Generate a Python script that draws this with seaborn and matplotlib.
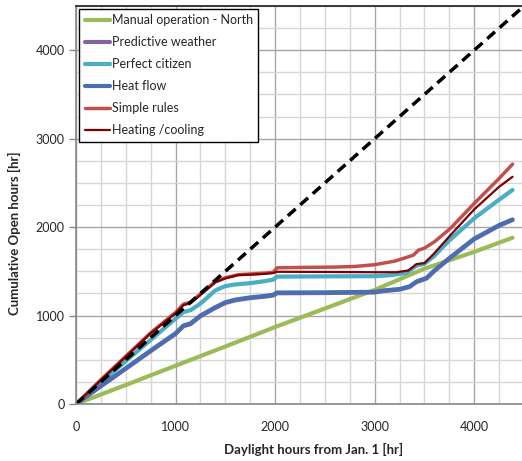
import matplotlib
matplotlib.use("Agg")
import matplotlib.pyplot as plt
import seaborn as sns
from matplotlib.ticker import MultipleLocator

sns.set_theme(style="white")
plt.rcParams["font.family"] = ["Lato", "DejaVu Sans"]

# data
manual_x = [0, 500, 1000, 1500, 2000, 2500, 3000, 3500, 4000, 4385]
manual_y = [0, 215, 433, 650, 870, 1080, 1290, 1530, 1720, 1880]

predictive_x = [0, 250, 500, 750, 1000, 1080, 1150, 1250, 1400, 1500, 1600, 1750, 1900, 1980,
                2020, 2500, 3000, 3100, 3250, 3350, 3420, 3520, 3600, 3750, 4000, 4250, 4385]
predictive_y = [0, 200, 398, 597, 792, 880, 903, 992, 1087, 1142, 1172, 1197, 1214, 1227,
                1252, 1255, 1261, 1278, 1293, 1323, 1378, 1418, 1503, 1643, 1862, 2015, 2080]

citizen_x = [0, 250, 500, 750, 1000, 1080, 1150, 1250, 1400, 1500, 1600, 1750, 1900, 1980,
             2020, 2500, 3000, 3150, 3320, 3420, 3500, 3600, 3750, 4000, 4250, 4385]
citizen_y = [0, 245, 485, 725, 965, 1040, 1060, 1135, 1285, 1333, 1352, 1366, 1390, 1405,
             1440, 1443, 1445, 1455, 1483, 1565, 1585, 1675, 1850, 2100, 2310, 2420]

heatflow_x = [0, 250, 500, 750, 1000, 1080, 1150, 1250, 1400, 1500, 1600, 1750, 1900, 1980,
              2020, 2500, 3000, 3100, 3250, 3350, 3420, 3520, 3600, 3750, 4000, 4250, 4385]
heatflow_y = [0, 205, 405, 605, 800, 888, 912, 1000, 1095, 1150, 1180, 1205, 1222, 1235,
              1260, 1262, 1268, 1285, 1300, 1330, 1385, 1425, 1510, 1650, 1870, 2023, 2087]

simple_x = [0, 250, 500, 750, 1000, 1080, 1150, 1250, 1400, 1500, 1630, 1750, 1900, 1980,
            2020, 2300, 2600, 2800, 3000, 3200, 3300, 3390, 3440, 3500, 3600, 3760, 4000,
            4250, 4385]
simple_y = [0, 275, 540, 805, 1035, 1130, 1148, 1245, 1385, 1428, 1462, 1470, 1480, 1490,
            1540, 1545, 1548, 1555, 1575, 1615, 1650, 1684, 1740, 1762, 1834, 1985, 2268,
            2550, 2712]

heating_x = [0, 250, 500, 750, 1000, 1080, 1150, 1250, 1400, 1500, 1630, 1750, 1900, 1980,
             2020, 2500, 3000, 3220, 3340, 3420, 3500, 3600, 3750, 4000, 4250, 4385]
heating_y = [0, 270, 535, 799, 1025, 1119, 1138, 1232, 1375, 1420, 1458, 1462, 1472, 1480,
             1495, 1493, 1490, 1490, 1510, 1582, 1592, 1705, 1895, 2200, 2456, 2569]

ref_x = [0, 4500]
ref_y = [0, 4500]

series = [
    ("Manual operation - North", manual_x, manual_y, "#9BBB59", 3.0),
    ("Predictive weather", predictive_x, predictive_y, "#8064A2", 3.0),
    ("Perfect citizen", citizen_x, citizen_y, "#4BACC6", 3.0),
    ("Heat flow", heatflow_x, heatflow_y, "#4A6FB0", 3.0),
    ("Simple rules", simple_x, simple_y, "#C0504D", 2.5),
    ("Heating /cooling", heating_x, heating_y, "#7F0000", 1.6),
]

fig = plt.figure(figsize=(5.22, 4.61), dpi=100)
ax = fig.add_axes([76 / 522, 1 - 404 / 461, 448 / 522, 398 / 461])

for name, xs, ys, color, lw in series:
    sns.lineplot(x=xs, y=ys, ax=ax, color=color, linewidth=lw, label=name,
                 estimator=None, sort=False)

sns.lineplot(x=ref_x, y=ref_y, ax=ax, color="black", linewidth=2.5,
             linestyle=(0, (3, 1.8)), estimator=None, legend=False)

ax.set_xlim(0, 4500)
ax.set_ylim(0, 4500)
ax.xaxis.set_major_locator(MultipleLocator(1000))
ax.yaxis.set_major_locator(MultipleLocator(1000))
ax.xaxis.set_minor_locator(MultipleLocator(250))
ax.yaxis.set_minor_locator(MultipleLocator(250))
ax.grid(True, which="major", color="#a6a6a6", linewidth=1.0)
ax.grid(True, which="minor", color="#d6d6d6", linewidth=1.0)
ax.set_axisbelow(True)

ax.tick_params(axis="y", which="major", left=True, length=5, width=1, color="#888888",
               labelsize=9, pad=3)
ax.tick_params(axis="x", which="major", bottom=False, labelsize=9, pad=6)
ax.tick_params(which="minor", left=False, bottom=False)

for side in ["left", "bottom"]:
    ax.spines[side].set_color("#888888")
    ax.spines[side].set_linewidth(1.2)
ax.spines["top"].set_color("#222222")
ax.spines["right"].set_visible(False)

ax.set_xlabel("Daylight hours from Jan. 1 [hr]", fontsize=9.5, fontweight="bold")
ax.set_ylabel("Cumulative Open hours [hr]", fontsize=9.5, fontweight="bold")
ax.xaxis.set_label_coords(0.531, -0.098)
ax.yaxis.set_label_coords(-0.122, 0.43)

leg = ax.legend(loc="upper left", bbox_to_anchor=(0.007, 0.993), fontsize=9,
                frameon=True, fancybox=False, framealpha=1, edgecolor="black",
                handlelength=2.0, handletextpad=0.15, labelspacing=0.8,
                borderpad=0.45, borderaxespad=0)
leg.get_frame().set_linewidth(1.0)

fig.savefig("out.png", dpi=100)
